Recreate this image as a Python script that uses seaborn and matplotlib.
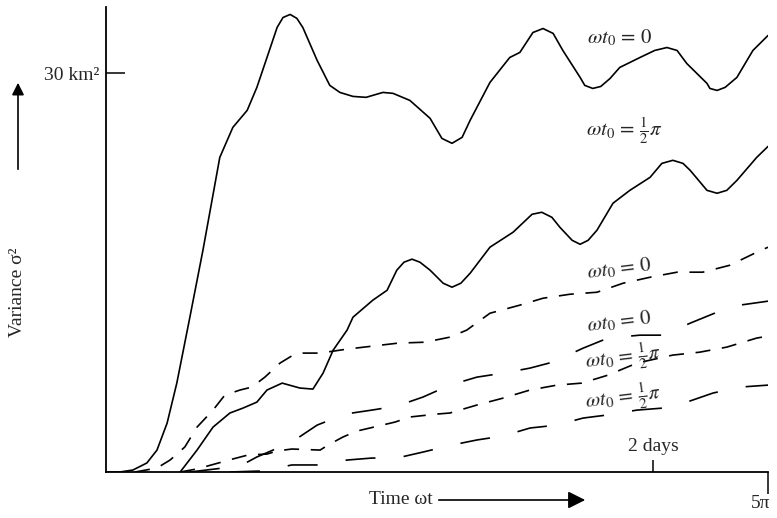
import numpy as np
import pandas as pd
import seaborn as sns
import matplotlib.pyplot as plt

# curves: x in units of omega*t (0 .. 5pi), y in km^2
solid0_x = [0, 0.33, 0.64, 0.97, 1.21, 1.45, 1.68, 1.99, 2.30, 2.70, 3.01, 3.35, 3.58, 3.82, 4.06,
            4.20, 4.37, 4.53, 4.67, 5.01, 5.31, 5.55, 5.86, 6.17, 6.57, 6.81, 7.21, 7.69, 7.97,
            8.21, 8.45, 8.64, 9.11, 9.58, 9.82, 10.13, 10.37, 10.61, 10.84, 11.25, 11.36, 11.55,
            11.74, 11.96, 12.19, 12.67, 13.02, 13.31, 13.55, 13.78, 14.26, 14.33, 14.50, 14.69,
            14.97, 15.35, 15.71]
solid0_y = [0, 0, 0.15, 0.68, 1.65, 3.68, 6.69, 11.65, 16.69, 23.68, 25.94, 27.22, 28.95, 31.20,
            33.46, 34.21, 34.44, 34.14, 33.46, 30.98, 29.10, 28.57, 28.27, 28.20, 28.57, 28.50,
            27.97, 26.62, 25.11, 24.74, 25.19, 26.47, 29.32, 31.20, 31.58, 33.08, 33.38, 33.01,
            31.73, 29.70, 29.10, 28.87, 29.02, 29.62, 30.45, 31.20, 31.73, 31.95, 31.73, 30.75,
            29.25, 28.87, 28.72, 28.95, 29.70, 31.73, 32.86]

solid_half_x = [1.76, 2.16, 2.54, 2.94, 3.25, 3.58, 3.82, 4.18, 4.60, 4.91, 5.15, 5.39, 5.72, 5.86,
                6.33, 6.67, 6.90, 7.07, 7.26, 7.45, 7.69, 8.00, 8.21, 8.42, 8.64, 9.11, 9.66,
                10.11, 10.34, 10.58, 10.77, 11.06, 11.25, 11.44, 11.65, 12.03, 12.43, 12.91,
                13.19, 13.45, 13.69, 13.86, 14.26, 14.50, 14.73, 14.97, 15.44, 15.71]
solid_half_y = [0, 1.65, 3.38, 4.44, 4.81, 5.26, 6.17, 6.69, 6.32, 6.24, 7.44, 9.17, 10.68, 11.65,
                12.93, 13.68, 15.19, 15.79, 16.02, 15.79, 15.19, 14.21, 13.91, 14.21, 14.96, 16.92,
                18.05, 19.40, 19.55, 19.17, 18.42, 17.44, 17.14, 17.44, 18.20, 20.23, 21.20, 22.18,
                23.23, 23.46, 23.23, 22.71, 21.20, 20.98, 21.20, 21.95, 23.68, 24.51]

dash0a_x = [0.69, 1.21, 1.52, 1.87, 2.16, 2.54, 2.82, 3.18, 3.46, 3.77, 4.13, 4.44, 4.67, 5.08,
            5.72, 6.31, 6.93, 7.57, 8.16, 8.56, 9.11, 9.82, 10.37, 11.01, 11.65, 12.27, 12.91,
            13.55, 14.16, 14.80, 15.44, 15.71]
dash0a_y = [0, 0.30, 0.90, 1.88, 3.38, 4.66, 5.79, 6.17, 6.39, 7.14, 8.20, 8.80, 8.95, 8.95,
            9.25, 9.47, 9.70, 9.77, 10.15, 10.68, 11.95, 12.56, 13.08, 13.38, 13.53, 14.21, 14.66,
            15.04, 15.04, 15.56, 16.54, 16.92]

dash0b_x = [1.99, 3.18, 3.58, 4.41, 5.01, 5.67, 6.31, 6.90, 7.52, 8.16, 8.80, 9.42, 10.06, 10.60,
            11.32, 11.91, 12.67, 13.22, 13.86, 14.50, 15.04, 15.71]
dash0b_y = [0, 0.45, 1.13, 2.26, 3.53, 4.36, 4.66, 4.96, 5.64, 6.54, 7.14, 7.44, 7.82, 8.27,
            9.32, 10.08, 10.30, 10.30, 11.20, 12.03, 12.56, 12.86]

dash_half_a_x = [1.76, 2.16, 3.01, 3.37, 3.82, 4.06, 4.41, 5.08, 5.27, 5.62, 5.95, 6.26, 6.86, 7.21,
                 7.85, 8.16, 8.80, 9.42, 10.06, 10.70, 11.29, 11.91, 12.60, 13.45, 14.09, 14.73,
                 15.44, 15.71]
dash_half_a_y = [0, 0.23, 0.98, 1.28, 1.35, 1.58, 1.73, 1.65, 2.03, 2.63, 3.08, 3.31, 3.76, 4.14,
                 4.36, 4.44, 5.04, 5.56, 6.17, 6.54, 6.69, 7.29, 8.20, 8.80, 9.02, 9.40,
                 10.08, 10.23]

dash_half_b_x = [2.94, 3.72, 4.41, 5.03, 5.72, 6.31, 6.90, 7.52, 8.21, 8.80, 9.42, 10.06, 10.70,
                 11.32, 11.89, 12.60, 13.21, 13.78, 14.40, 15.04, 15.71]
dash_half_b_y = [0, 0.08, 0.53, 0.53, 0.90, 1.05, 1.05, 1.50, 2.03, 2.41, 2.71, 3.31, 3.53,
                 4.06, 4.29, 4.66, 4.81, 5.26, 5.94, 6.39, 6.54]

two_days = 12.98
label_0 = r'$\omega t_0\,=\,0$'
label_half = r'$\omega t_0\,=\,\frac{1}{2}\pi$'

sns.set_style('white')
plt.rcParams['font.family'] = ['Liberation Serif', 'DejaVu Serif']
plt.rcParams['mathtext.fontset'] = 'stix'

fig = plt.figure(figsize=(7.77, 5.18), dpi=100)
ax = fig.add_axes([106 / 777, 46 / 518, 662 / 777, 465 / 518])

curves = [
    (solid0_x, solid0_y, None),
    (solid_half_x, solid_half_y, None),
    (dash0a_x, dash0a_y, (9, 7)),
    (dash0b_x, dash0b_y, (18, 17)),
    (dash_half_a_x, dash_half_a_y, (9, 7)),
    (dash_half_b_x, dash_half_b_y, (18, 17)),
]
for xs, ys, dash in curves:
    df = pd.DataFrame({'t': xs, 'var': ys})
    sns.lineplot(data=df, x='t', y='var', ax=ax, color='black', lw=1.2)
    ax.lines[-1].set_solid_joinstyle('round')
    if dash is not None:
        ax.lines[-1].set_dashes(dash)

ax.set_xlim(0, 5 * np.pi)
ax.set_ylim(0, 35)
sns.despine(ax=ax)
for s in ['left', 'bottom']:
    ax.spines[s].set_linewidth(1.3)
    ax.spines[s].set_color('black')

ax.set_xlabel('')
ax.set_ylabel('')
ax.set_yticks([30])
ax.set_yticklabels(['30 km²'], fontsize=14)
ax.tick_params(axis='y', left=True, direction='in', length=14, width=1.3, pad=5)
ax.set_xticks([5 * np.pi])
ax.set_xticklabels([''])
ax.tick_params(axis='x', bottom=True, direction='out', length=16, width=1.3)
ax.set_xticks([two_days], minor=True)
ax.tick_params(axis='x', which='minor', bottom=True, direction='in', length=9, width=1.3)
ax.text(two_days, 1.3, '2 days', ha='center', va='bottom', fontsize=14)
fig.text(761 / 777, 1 - 504 / 518, '5π', ha='center', va='center', fontsize=14)

# curve labels
ax.text(12.19, 32.7, label_0, ha='center', va='center', fontsize=15)
ax.text(12.31, 25.7, label_half, ha='center', va='center', fontsize=15)
ax.text(12.19, 15.3, label_0, ha='center', va='center', fontsize=15, rotation=7)
ax.text(12.19, 11.3, label_0, ha='center', va='center', fontsize=15, rotation=7)
ax.text(12.28, 8.6, label_half, ha='center', va='center', fontsize=15, rotation=7)
ax.text(12.28, 5.6, label_half, ha='center', va='center', fontsize=15, rotation=7)

# axis captions with arrows
fig.text(18 / 777, 1 - 292 / 518, 'Variance σ²', rotation=90, ha='center', va='center', fontsize=14)
ax.annotate('', xy=(18 / 777, 1 - 80 / 518), xytext=(18 / 777, 1 - 172 / 518),
            xycoords='figure fraction', textcoords='figure fraction',
            arrowprops=dict(arrowstyle='-|>', color='black', lw=1.2, mutation_scale=18))
fig.text(433 / 777, 1 - 500 / 518, 'Time ωt', ha='right', va='center', fontsize=14)
ax.annotate('', xy=(588 / 777, 1 - 500 / 518), xytext=(436 / 777, 1 - 500 / 518),
            xycoords='figure fraction', textcoords='figure fraction',
            arrowprops=dict(arrowstyle='-|>', color='black', lw=1.2, mutation_scale=26))

fig.savefig('out.png', dpi=100)
